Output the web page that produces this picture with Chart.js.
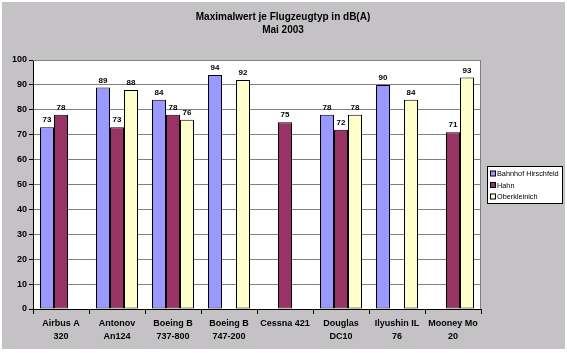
<!DOCTYPE html>
<html lang="de">
<head>
<meta charset="UTF-8">
<title>Maximalwert je Flugzeugtyp</title>
<style>
  html, body { margin: 0; padding: 0; background: #fff; }
  #wrap { width: 567px; height: 353px; }
</style>
</head>
<body>
<div id="wrap"><canvas id="myChart"></canvas></div>
<script src="https://cdn.jsdelivr.net/npm/chart.js@4/dist/chart.umd.min.js"></script>
<script>
const categories = [
  ['Airbus A', '320'], ['Antonov', 'An124'], ['Boeing B', '737-800'], ['Boeing B', '747-200'],
  'Cessna 421', ['Douglas', 'DC10'], ['Ilyushin IL', '76'], ['Mooney Mo', '20']
]
const seriesNames = ['Bahnhof Hirschfeld', 'Hahn', 'Oberkleinich']
const bahnhof = [73, 89, 84, 94, null, 78, 90, null]
const hahn = [78, 73, 78, null, 75, 72, null, 71]
const oberkleinich = [null, 88, 76, 92, null, 78, 84, 93]
const titleLines = ['Maximalwert je Flugzeugtyp in dB(A)', 'Mai 2003']

const colors = ['#9999ff', '#993366', '#ffffcc']
const font = 'Liberation Sans, Arial, sans-serif'

// grey frame, title, plot border, value labels, legend box
const excelLook = {
  id: 'excelLook',
  beforeDraw(chart) {
    const c = chart.ctx
    c.save()
    c.fillStyle = '#c4c2c5'
    c.fillRect(2, 2, 563, 347)
    const a = chart.chartArea
    c.fillStyle = '#ffffff'
    c.fillRect(a.left, a.top, a.right - a.left, a.bottom - a.top)

    c.fillStyle = '#000'
    c.font = 'bold 10px ' + font
    c.textAlign = 'center'
    c.textBaseline = 'middle'
    titleLines.forEach((t, i) => c.fillText(t, 283, 17 + i * 13))
    c.restore()
  },
  afterDatasetsDraw(chart) {
    const c = chart.ctx
    const a = chart.chartArea
    c.save()
    c.strokeStyle = '#808080'
    c.lineWidth = 1
    c.beginPath()
    c.moveTo(a.left, a.top + 0.5)
    c.lineTo(a.right - 0.5, a.top + 0.5)
    c.lineTo(a.right - 0.5, a.bottom)
    c.stroke()

    c.fillStyle = '#000'
    c.font = 'bold 8px ' + font
    c.textAlign = 'center'
    c.textBaseline = 'bottom'
    chart.data.datasets.forEach((ds, i) => {
      chart.getDatasetMeta(i).data.forEach((bar, j) => {
        if (ds.data[j] == null) return
        c.fillText(ds.data[j], bar.x, bar.y - 3)
      })
    })

    // legend
    const lx = 487, ly = 166, lw = 75, lh = 37
    c.fillStyle = '#fff'
    c.fillRect(lx, ly, lw, lh)
    c.strokeStyle = '#000'
    c.strokeRect(lx + 0.5, ly + 0.5, lw, lh)
    c.font = '7.3px ' + font
    c.textAlign = 'left'
    c.textBaseline = 'middle'
    chart.data.datasets.forEach((ds, i) => {
      const y = ly + 7.5 + i * 11.5
      c.fillStyle = ds.backgroundColor
      c.fillRect(lx + 3, y - 2.5, 5, 5)
      c.strokeStyle = '#000'
      c.strokeRect(lx + 3.5, y - 2.5, 5, 5)
      c.fillStyle = '#000'
      c.fillText(ds.label, lx + 10, y + 0.5)
    })
    c.restore()
  }
}

const ctx = document.querySelector('#myChart').getContext('2d')
const chart = new Chart(ctx, {
  type: 'bar',
  data: {
    labels: categories,
    datasets: [bahnhof, hahn, oberkleinich].map((d, i) => ({
      label: seriesNames[i],
      data: d,
      backgroundColor: colors[i],
      borderColor: '#000',
      borderWidth: 1,
      borderSkipped: false,
      categoryPercentage: 0.75,
      barPercentage: 1
    }))
  },
  options: {
    responsive: true,
    maintainAspectRatio: false,
    animation: false,
    layout: { padding: { left: 0, right: 86, top: 60, bottom: 0 } },
    plugins: {
      legend: { display: false },
      tooltip: { enabled: false },
      title: { display: false }
    },
    scales: {
      x: {
        grid: { display: true, drawOnChartArea: false, offset: true, tickLength: 5, tickColor: '#000' },
        border: { color: '#000' },
        ticks: { color: '#000', font: { family: font, size: 9, weight: 'bold', lineHeight: 1.45 }, padding: 3, maxRotation: 0, autoSkip: false },
        afterFit(s) { s.height = 44 }
      },
      y: {
        min: 0,
        max: 100,
        ticks: { stepSize: 10, color: '#000', font: { family: font, size: 9, weight: 'bold' }, padding: 2 },
        grid: { color: '#808080', tickLength: 4, tickColor: '#000' },
        border: { color: '#000' },
        afterFit(s) { s.width = 33 }
      }
    }
  },
  plugins: [excelLook]
})
</script>
</body>
</html>
